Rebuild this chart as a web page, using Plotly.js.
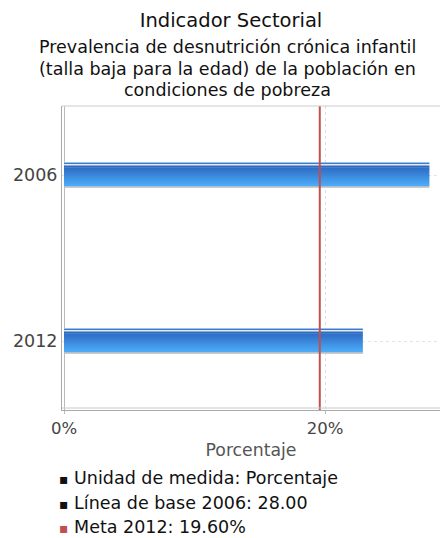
<!DOCTYPE html>
<html>
<head>
<meta charset="utf-8">
<script src="https://cdn.plot.ly/plotly-3.0.1.min.js"></script>
<style>html,body{margin:0;padding:0;background:#fff;}#chart{width:440px;height:538px;}</style>
</head>
<body>
<div id="chart"></div>
<script>
// ---- data ----
var categories = ['2006', '2012'];
var values = [28.0, 22.9];
var metaValue = 19.6;
var xTickVals = [0, 20];
var xTickText = ['0%', '20%'];
var subtitleLines = ['Prevalencia de desnutrición crónica infantil', '(talla baja para la edad) de la población en', 'condiciones de pobreza'];
var legendLines = ['Unidad de medida: Porcentaje', 'Línea de base 2006: 28.00', 'Meta 2012: 19.60%'];
var legendColors = ['#111111', '#111111', '#c0504d'];

// ---- styling (pixel bands of the bar, relative to category centre) ----
var PX = 1 / 166; // category units per pixel
function hex(c){return [parseInt(c.substr(1,2),16),parseInt(c.substr(3,2),16),parseInt(c.substr(5,2),16)];}
function mix(a,b,t){var A=hex(a),B=hex(b);return 'rgb('+A.map(function(v,i){return Math.round(v+(B[i]-v)*t);}).join(',')+')';}
var bands = [
  {top:-13, h:1.2, color:'#9cc0ea'},
  {top:-12, h:1.2, color:'#3f7bcb'},
  {top:-11, h:1.6, color:'#dce9f8'}
];
var gTop = -9.5, gBot = 11, steps = 10;
for (var i = 0; i < steps; i++) {
  var t0 = gTop + (gBot - gTop) * i / steps;
  bands.push({top:t0, h:(gBot - gTop)/steps + 0.3, color:mix('#2d69c0', '#4aa9f8', i/(steps-1))});
}
bands.push({top:11, h:1.8, color:'#b4bcc6'});

var traces = bands.map(function(b){
  return {
    type:'bar', orientation:'h', y:categories, x:values,
    offset:b.top*PX, width:b.h*PX,
    marker:{color:b.color, line:{width:0}},
    hoverinfo:'skip', showlegend:false
  };
});

var plotTop = 106, plotBot = 410;
var plotH = plotBot - plotTop;
var span = plotH * PX;
var topV = -69 * PX;
function yPaper(px){ return (plotBot - px) / plotH; }

var annotations = [];
var subY = [47, 69, 90];
subtitleLines.forEach(function(s, k){
  annotations.push({
    text:s, xref:'paper', yref:'paper', x:(227-62)/378, y:yPaper(subY[k]),
    xanchor:'center', yanchor:'middle', showarrow:false,
    font:{family:'DejaVu Sans', size:17.5, color:'#111'}
  });
});
legendLines.forEach(function(s, k){
  annotations.push({
    text:'<span style="font-size:14px;color:' + legendColors[k] + '">▪</span> ' + s,
    xref:'paper', yref:'paper', x:(57-62)/378, y:yPaper(478 + 24.5*k),
    xanchor:'left', yanchor:'middle', showarrow:false, align:'left',
    font:{family:'DejaVu Sans', size:17.5, color:'#111'}
  });
});

var shapes = [
  {type:'line', xref:'x', yref:'paper', x0:metaValue, x1:metaValue, y0:0, y1:1, line:{color:'#c0504d', width:2}},
  {type:'line', xref:'paper', yref:'paper', x0:0, x1:1, y0:1, y1:1, line:{color:'#cccccc', width:1}},
  {type:'line', xref:'paper', yref:'paper', x0:0, x1:1, y0:2/plotH, y1:2/plotH, line:{color:'#c8c8c8', width:1}}
];

var layout = {
  width:440, height:538,
  margin:{l:62, r:0, t:plotTop, b:538-plotBot},
  paper_bgcolor:'#fff', plot_bgcolor:'#fff',
  barmode:'overlay',
  font:{family:'DejaVu Sans', color:'#444'},
  title:{text:'Indicador Sectorial', x:231/440, xanchor:'center', xref:'container', yref:'container', y:1-20/538, yanchor:'middle',
         font:{family:'DejaVu Sans', size:19.5, color:'#111'}},
  xaxis:{
    range:[-2/13.05, 376/13.05], tickvals:xTickVals, ticktext:xTickText,
    showgrid:true, gridcolor:'#dddddd', griddash:'dot', gridwidth:1,
    zeroline:true, zerolinecolor:'#bbbbbb', zerolinewidth:1,
    showline:true, linecolor:'#aaaaaa', linewidth:1,
    ticks:'outside', ticklen:3, tickcolor:'#bbbbbb',
    tickfont:{family:'DejaVu Sans', size:16.5, color:'#444'},
    title:{text:'Porcentaje', font:{family:'DejaVu Sans', size:17.3, color:'#555'}, standoff:7},
    fixedrange:true
  },
  yaxis:{
    type:'category', range:[topV + span, topV],
    showgrid:true, gridcolor:'#e4e4e4', griddash:'dot', gridwidth:1,
    showline:true, linecolor:'#aaaaaa', linewidth:1,
    ticks:'', ticklen:0,
    tickfont:{family:'DejaVu Sans', size:17.5, color:'#444'},
    fixedrange:true
  },
  shapes:shapes,
  annotations:annotations
};

Plotly.newPlot('chart', traces, layout, {displayModeBar:false, staticPlot:true});
</script>
</body>
</html>
